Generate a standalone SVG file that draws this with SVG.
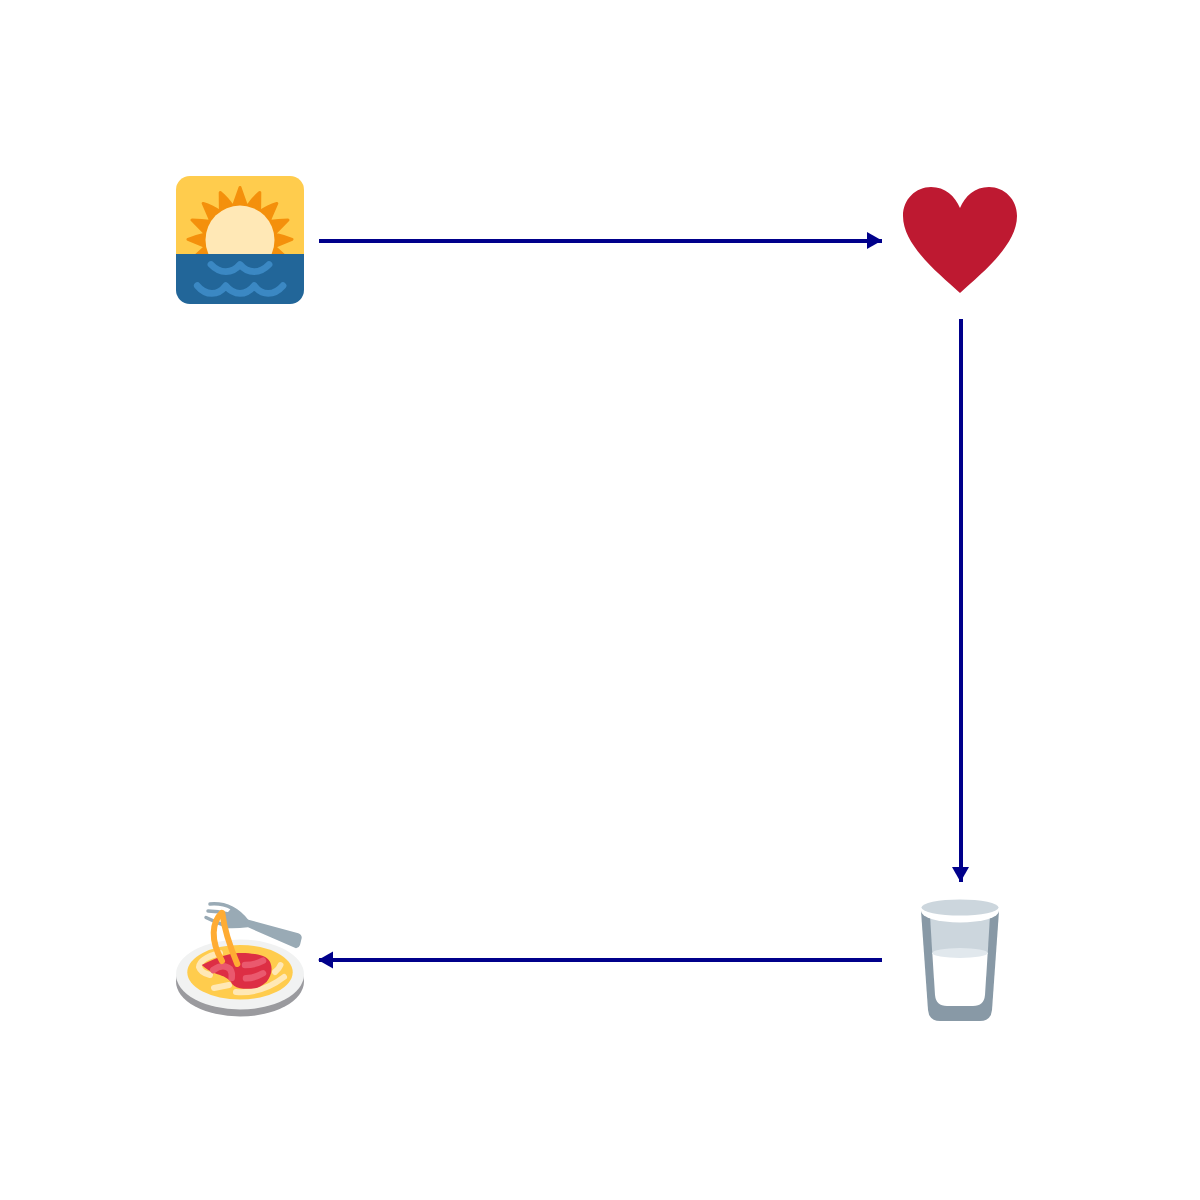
<svg xmlns="http://www.w3.org/2000/svg" width="1200" height="1200" viewBox="0 0 1200 1200">
<defs>
<clipPath id="skyClip"><rect x="176" y="176" width="128" height="78"/></clipPath>
<clipPath id="tileClip"><rect x="176" y="176" width="128" height="128" rx="14"/></clipPath>
</defs>
<style>
.edge{fill:none;stroke:#00008b;stroke-width:4}
.head{fill:#00008b}
.wave{fill:none;stroke:#3b88c3;stroke-width:6.800;stroke-linecap:round;stroke-linejoin:round}
.pale{fill:none;stroke:#ffe8b6;stroke-width:6;stroke-linecap:round}
.sauce{fill:none;stroke:#ea596e;stroke-width:6.500;stroke-linecap:round}
.noodle{fill:none;stroke:#ffac33;stroke-width:6;stroke-linecap:round}
.tine{fill:none;stroke:#99aab5;stroke-width:3.500;stroke-linecap:round}
</style>
<rect width="1200" height="1200" fill="#fff"/>
<g id="connectors">
<path class="edge" d="M319 241H882"/><path class="head" d="M867 232L882 240.500L867 249Z"/>
<path class="edge" d="M961 319V882"/><path class="head" d="M952 867H969L960.500 882Z"/>
<path class="edge" d="M882 960H319"/><path class="head" d="M333 951.500V968.500L318 960Z"/>
</g>
<g id="sunrise">
<g clip-path="url(#tileClip)">
<rect x="176" y="176" width="128" height="78" fill="#ffcc4d"/>
<rect x="176" y="254" width="128" height="50" fill="#269"/>
</g>
<g clip-path="url(#skyClip)">
<path fill="#f4900c" stroke="#f4900c" stroke-width="3" stroke-linejoin="round" d="M240 187.500L246.900 207Q253 198 259.800 192.500L259.600 212Q268 206 276.800 203.500L269 221.500Q278 220 288 220L274.300 234Q283 236 292 239.300L274.400 246.700L288 259L192 259L205.600 246.700L188 239.300Q197 236 205.700 234L192 220Q202 220 211 221.500L203.200 203.500Q212 206 220.400 212L220.200 192.500Q227 198 233.100 207Z"/>
<circle cx="240" cy="240" r="34.500" fill="#ffe8b6"/>
</g>
<path class="wave" d="M211 264.500C220 274 232 274 240 264.500C248 274 260 274 269 264.500"/>
<path class="wave" d="M197.300 285.700C206 296 218 296 225.700 285.700C234 296 246 296 254.300 285.700C262 296 274 296 283 285.700"/>
</g>
<g id="heart">
<path fill="#be1931" d="M960 293C938 273 903 245 903 216C903 199 916 187 931 187C945 187 955 196 960 208C965 196 975 187 989 187C1004 187 1017 199 1017 216C1017 245 982 273 960 293Z"/>
</g>
<g id="glass">
<path fill="#8899a6" d="M921 911L999 911L992 1010Q991 1021 980 1021H940Q929 1021 928 1010Z"/>
<path fill="#ccd6dd" d="M930 915H990L987.700 954H932.300Z"/>
<path fill="#fff" d="M932.300 953H987.700L985 995Q984 1006 973 1006H947Q936 1006 935 995Z"/>
<ellipse cx="960" cy="953" rx="27.700" ry="5" fill="#e1e8ed"/>
<ellipse cx="960" cy="911" rx="39" ry="11.500" fill="#fff"/>
<ellipse cx="960" cy="907.500" rx="38.500" ry="8" fill="#ccd6dd"/>
</g>
<g id="spaghetti">
<ellipse cx="240" cy="981.500" rx="64" ry="35" fill="#9a9a9e"/>
<ellipse cx="240" cy="974.500" rx="64" ry="35" fill="#f1f2f2"/>
<ellipse cx="240" cy="972.300" rx="52.700" ry="27.300" fill="#ffcc4d"/>
<path class="pale" d="M220 953Q200 958 199 967Q201 973 210 975"/>
<path class="pale" d="M275 972Q279 969 280.500 965"/>
<path class="pale" d="M236 992Q262 994 284 977"/>
<path class="pale" d="M214 988L229 985"/>
<path fill="#dd2e44" d="M201.700 965C210 961 218 957 226.700 955C237 952 247 953 255 954C263 955 269 958 270.500 963C273 970 271 976 266.700 981.700C262 986 258 988 255 988.300C250 989 244 989 240 988.300C235 987 232 985 231 982C229 979 224 976 216.700 974C211 972 206 969 201.700 965Z"/>
<path class="sauce" d="M213.300 970Q223 963 230 969Q232.500 973 231.700 978"/>
<path class="sauce" d="M245 965Q255 965 263 960.700"/>
<path class="sauce" d="M246 978.300Q255 978 263 973.300"/>
<path fill="#99aab5" d="M246.700 919.300L298.300 933.300Q302 935 301.700 938L300 945Q299 948 296 948.300L248 927.300Q235 929 223 928L222 918L229 911L232 907Z"/>
<path class="tine" d="M210 904Q232 902 247 921"/>
<path class="tine" d="M208 911Q218 911 228 914"/>
<path class="tine" d="M206 917.500Q215 922 226 926"/>
<path class="noodle" d="M221.700 913C212 922 210 940 222 961"/>
<path class="noodle" d="M222.300 913Q225 935 237.300 964"/>
</g>
</svg>
